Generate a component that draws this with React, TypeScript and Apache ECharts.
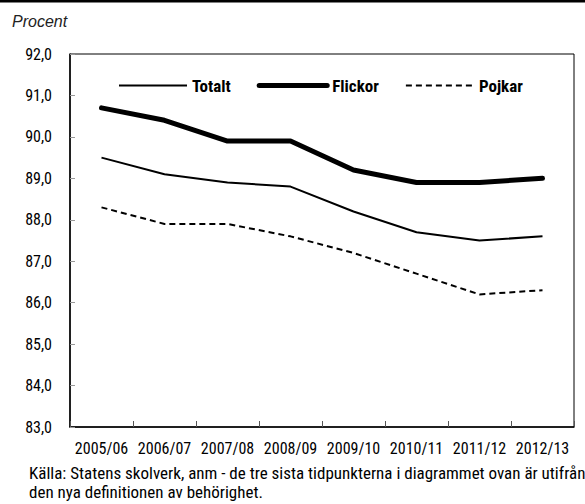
import React, { useEffect, useRef } from "react";
import * as echarts from "echarts";

const categories = ["2005/06", "2006/07", "2007/08", "2008/09", "2009/10", "2010/11", "2011/12", "2012/13"];
const totalt = [89.5, 89.1, 88.9, 88.8, 88.2, 87.7, 87.5, 87.6];
const flickor = [90.7, 90.4, 89.9, 89.9, 89.2, 88.9, 88.9, 89.0];
const pojkar = [88.3, 87.9, 87.9, 87.6, 87.2, 86.7, 86.2, 86.3];

const FONT = "'Roboto Condensed', 'DejaVu Sans Condensed', sans-serif";

export default function App() {
  const ref = useRef<HTMLDivElement>(null);
  useEffect(() => {
    if (!ref.current) return;
    const chart = echarts.init(ref.current, null, { renderer: "svg" });
    chart.setOption({
      animation: false,
      backgroundColor: "#fff",
      textStyle: { fontFamily: FONT },
      grid: { left: 70, right: 11, top: 54, bottom: 77, show: true, borderColor: "#000", borderWidth: 1 },
      legend: {
        top: 72,
        left: 113,
        itemWidth: 68,
        itemHeight: 14,
        itemGap: 26,
        itemStyle: { opacity: 0 },
        textStyle: { fontFamily: FONT, fontWeight: "bold", fontSize: 17, color: "#000" },
        data: [
          { name: "Totalt", lineStyle: { width: 2, color: "#000" } },
          { name: "Flickor", lineStyle: { width: 5, color: "#000" } },
          { name: "Pojkar", lineStyle: { width: 2, color: "#000", type: [6, 4] } },
        ],
      },
      xAxis: {
        type: "category",
        data: categories,
        boundaryGap: true,
        axisLine: { lineStyle: { color: "#000", width: 1.5 } },
        axisTick: { show: true, inside: true, length: 6, lineStyle: { color: "#555" } },
        axisLabel: { color: "#000", fontSize: 16, fontFamily: FONT, margin: 13, interval: 0 },
      },
      yAxis: {
        type: "value",
        min: 83,
        max: 92,
        interval: 1,
        axisLine: { show: true, lineStyle: { color: "#000", width: 1.5 } },
        axisTick: { show: true, inside: true, length: 5, lineStyle: { color: "#999" } },
        splitLine: { show: false },
        axisLabel: {
          color: "#000",
          fontSize: 16,
          fontFamily: FONT,
          margin: 18,
          formatter: (v: number) => v.toFixed(1).replace(".", ","),
        },
      },
      series: [
        {
          name: "Totalt",
          type: "line",
          data: totalt,
          symbol: "none",
          lineStyle: { color: "#000", width: 2 },
          itemStyle: { color: "#000" },
        },
        {
          name: "Flickor",
          type: "line",
          data: flickor,
          symbol: "none",
          lineStyle: { color: "#000", width: 5, cap: "round" },
          itemStyle: { color: "#000" },
        },
        {
          name: "Pojkar",
          type: "line",
          data: pojkar,
          symbol: "none",
          lineStyle: { color: "#000", width: 2, type: [6, 4] },
          itemStyle: { color: "#000" },
        },
      ],
      graphic: [
        { type: "rect", shape: { x: 0, y: 0, width: 585, height: 2.5 }, style: { fill: "#000" } },
        {
          type: "text",
          left: 12,
          top: 13,
          style: { text: "Procent", font: "italic 16px 'Liberation Sans', sans-serif", fill: "#222" },
        },
        {
          type: "text",
          left: 29,
          top: 463,
          style: {
            text: "Källa: Statens skolverk, anm - de tre sista tidpunkterna i diagrammet ovan är utifrån\nden nya definitionen av behörighet.",
            font: "17px " + FONT,
            lineHeight: 19,
            fill: "#000",
          },
        },
      ],
    });
    return () => chart.dispose();
  }, []);
  return <div ref={ref} style={{ width: 585, height: 504, position: "absolute", left: 0, top: 0 }} />;
}
